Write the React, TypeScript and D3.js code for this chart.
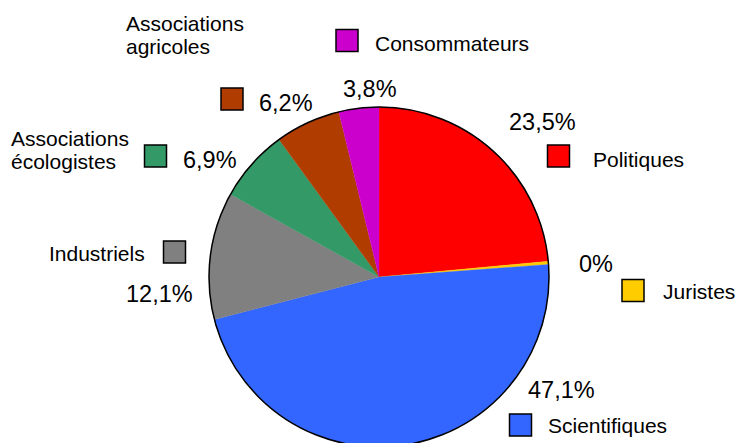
import React from "react";
import * as d3 from "d3";

const categories = ["Politiques", "Juristes", "Scientifiques", "Industriels", "Associations écologistes", "Associations agricoles", "Consommateurs"];
const values = [23.5, 0.3, 47.1, 12.1, 6.9, 6.2, 3.8];
const valueLabels = ["23,5%", "0%", "47,1%", "12,1%", "6,9%", "6,2%", "3,8%"];
const colors = ["#FF0000", "#FFCC00", "#3366FF", "#808080", "#339966", "#B03C00", "#CC00CC"];

// label layout (positions only)
const labelLines: string[][] = [
  ["Politiques"],
  ["Juristes"],
  ["Scientifiques"],
  ["Industriels"],
  ["Associations", "écologistes"],
  ["Associations", "agricoles"],
  ["Consommateurs"],
];
const nameXY = [[593, 167], [663, 299], [548, 433], [49, 261], [11, 146], [126, 31], [375, 51]];
const swatchXY = [[547.5, 145], [622, 279.5], [509.5, 414], [163.5, 241], [144.5, 145], [221, 88], [336, 29.5]];
const pctXY = [[509, 130], [579, 272], [528, 398], [126, 302], [183, 168], [259, 111], [343, 97]];

export default function App() {
  const W = 737, H = 443;
  const cx = 379, cy = 277, r = 170;
  const pie = d3.pie<number>().sort(null).startAngle(0).endAngle(2 * Math.PI);
  const arcs = pie(values);
  const arc = d3.arc<d3.PieArcDatum<number>>().innerRadius(0).outerRadius(r);
  const font = "'Liberation Sans', Arial, sans-serif";
  return (
    <svg width={W} height={H} style={{ position: "absolute", left: 0, top: 0, background: "#fff" }}>
      <g transform={`translate(${cx},${cy})`}>
        {arcs.map((a, i) => (
          <path key={i} d={arc(a) || ""} fill={colors[i]} stroke={colors[i]} strokeWidth={0.3} />
        ))}
        <circle r={r} fill="none" stroke="#000" strokeWidth={1.5} />
      </g>
      {categories.map((c, i) => (
        <g key={c}>
          <rect x={swatchXY[i][0]} y={swatchXY[i][1]} width={22} height={22} fill={colors[i]} stroke="#000" strokeWidth={1.5} />
          <text x={nameXY[i][0]} y={nameXY[i][1]} fontFamily={font} fontSize={21} fill="#000">
            {labelLines[i].map((ln, j) => (
              <tspan key={j} x={nameXY[i][0]} dy={j === 0 ? 0 : 23}>{ln}</tspan>
            ))}
          </text>
          <text x={pctXY[i][0]} y={pctXY[i][1]} fontFamily={font} fontSize={23.5} fill="#000">{valueLabels[i]}</text>
        </g>
      ))}
    </svg>
  );
}
